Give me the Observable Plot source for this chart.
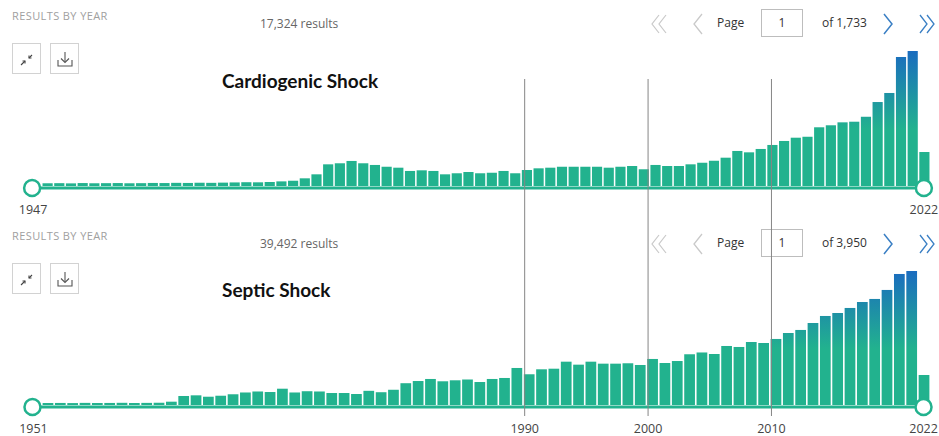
<!DOCTYPE html>
<html>
<head>
<meta charset="utf-8">
<script src="https://cdn.jsdelivr.net/npm/d3@7"></script>
<script src="https://cdn.jsdelivr.net/npm/@observablehq/plot@0.6"></script>
<style>
html, body { margin: 0; padding: 0; background: #fff; }
#root { position: relative; width: 939px; height: 436px; overflow: hidden; font-family: "Open Sans", sans-serif; }
.abs { position: absolute; white-space: nowrap; line-height: 16px; }
.rby { font-size: 11px; letter-spacing: 0.4px; color: #a0a0a0; }
.count { font-size: 12px; color: #666; }
.btn { position: absolute; width: 29px; height: 31px; border: 1px solid #d2d2d2; box-sizing: border-box; }
.btn svg { position: absolute; left: 0; top: 0; }
.title { position: absolute; white-space: nowrap; font-family: Lato, sans-serif; font-weight: bold; font-size: 19px; line-height: 22px; color: #111; }
.pg { font-size: 12px; color: #333; }
.pbox { position: absolute; width: 42px; height: 28px; border: 1px solid #bdbdbd; box-sizing: border-box; text-align: center; line-height: 26px; font-size: 12px; color: #333; }
.chev { position: absolute; }
.plotwrap { position: absolute; left: 0; }
</style>
</head>
<body>
<div id="root"></div>
<script>
// ---------- data ----------
const cardioYears = d3.range(1947, 2023);
const cardioCounts = [
  26, 27, 25, 28, 26, 27, 28, 26, 27,
  29, 28, 30, 29, 31, 30, 32,
  34, 36, 35, 38,
  44, 50,
  73, 111, 206, 216, 238, 216, 200, 183, 174, 143, 149, 143, 111, 121, 133,
  121, 126, 143, 121, 152, 168, 174, 183, 183, 183, 183, 174, 183, 190, 159,
  200, 190, 190, 206, 221, 240, 269, 333, 320, 352, 390, 428, 459, 468, 558,
  577, 605, 611, 658, 798, 884, 1226, 1283, 323
];
const septicYears = d3.range(1951, 2023);
const septicCounts = [
  30, 31, 29, 32, 30, 31, 33, 30, 32, 34,
  50,
  136, 146, 125, 140, 162, 189, 204, 196, 246, 189, 208, 204, 181, 181, 166, 214, 193, 230,
  329, 362, 393, 358, 373, 385, 347, 393, 408, 559,
  464, 539, 548, 654, 609, 654, 624, 624, 630, 604,
  695, 634, 664, 766, 793, 770, 891, 876, 951, 936,
  997, 1087, 1133, 1238, 1344, 1389, 1465, 1555, 1601, 1737, 1978, 2023, 453
];
const decadeYears = [1990, 2000, 2010];

const cardioTitle = "Cardiogenic Shock";
const septicTitle = "Septic Shock";
const cardioResults = "17,324 results";
const septicResults = "39,492 results";
const cardioPages = "of 1,733";
const septicPages = "of 3,950";
const headerLabel = "RESULTS BY YEAR";

const GREEN = "#22b28e";
const BLUE = "#1a6cbf";
const W = 939, ML = 41, MR = 8, PAD = 0.13;

// ---------- bar panel ----------
function barPanel({years, counts, id, height, marginTop, marginBottom, decades}) {
  const data = years.map((year, i) => ({year, count: counts[i]}));
  const first = years[0], last = years[years.length - 1];
  const base = height - marginBottom;
  const defs = () => {
    const d = d3.create("svg:defs");
    const g = d.append("linearGradient").attr("id", id)
      .attr("gradientUnits", "userSpaceOnUse")
      .attr("x1", 0).attr("x2", 0).attr("y1", base).attr("y2", marginTop);
    g.append("stop").attr("offset", 0).attr("stop-color", GREEN);
    g.append("stop").attr("offset", 0.42).attr("stop-color", GREEN);
    g.append("stop").attr("offset", 1).attr("stop-color", BLUE);
    return d.node();
  };
  const lbl = {y: d => 0, text: d => String(d), dy: 23, fill: "#444", fontSize: 12.5};
  const marks = [
    defs,
    Plot.barY(data, {x: "year", y: "count", fill: `url(#${id})`}),
    Plot.ruleY([0], {stroke: GREEN, strokeWidth: 3, dy: 1.5}),
    Plot.dot([first], {x: d => d, y: d => 0, r: 8, fill: "white", stroke: GREEN, strokeWidth: 2.5, dx: -16, dy: 1.5}),
    Plot.dot([last], {x: d => d, y: d => 0, r: 8, fill: "white", stroke: GREEN, strokeWidth: 2.5, dx: -1, dy: 1.5}),
    Plot.text([first], {x: d => d, ...lbl, dx: -15}),
    Plot.text([last], {x: d => d, ...lbl, dx: -1})
  ];
  if (decades) marks.push(Plot.text(decades, {x: d => d, ...lbl, dx: -5}));
  return Plot.plot({
    width: W, height, marginLeft: ML, marginRight: MR, marginTop, marginBottom,
    x: {type: "band", domain: years, padding: PAD, round: false, axis: null},
    y: {domain: [0, d3.max(counts)], axis: null},
    style: {background: "transparent", overflow: "visible", fontFamily: "'Open Sans', sans-serif"},
    marks
  });
}

// ---------- header ----------
const chevL = '<svg width="12" height="24"><polyline points="10,2 2,12 10,22" fill="none" stroke="#c9c9c9" stroke-width="1.3"/></svg>';
const chevLL = '<svg width="18" height="24"><polyline points="9,3 2,12 9,21" fill="none" stroke="#c9c9c9" stroke-width="1.2"/><polyline points="16,3 9,12 16,21" fill="none" stroke="#c9c9c9" stroke-width="1.2"/></svg>';
const chevR = '<svg width="12" height="24"><polyline points="2,2 10,12 2,22" fill="none" stroke="#3a7fc4" stroke-width="1.5"/></svg>';
const chevRR = '<svg width="18" height="24"><polyline points="2,3 9,12 2,21" fill="none" stroke="#3a7fc4" stroke-width="1.3"/><polyline points="9,3 16,12 9,21" fill="none" stroke="#3a7fc4" stroke-width="1.3"/></svg>';
const iconCompress = '<svg width="28" height="30"><g stroke="#444" stroke-width="1.1" fill="none"><line x1="8" y1="21" x2="12" y2="17"/><polyline points="9.5,17 12,17 12,19.5"/><line x1="19" y1="11" x2="16" y2="14"/><polyline points="16,11.5 16,14 18.5,14"/></g></svg>';
const iconDownload = '<svg width="28" height="30"><g stroke="#555" stroke-width="1.1" fill="none"><line x1="14" y1="8" x2="14" y2="18"/><polyline points="10,14.5 14,18.5 18,14.5"/><polyline points="7,16 7,22 21,22 21,16"/></g></svg>';

function header(root, off, results, pages, title, titleTop) {
  const add = (html) => { root.insertAdjacentHTML("beforeend", html); };
  add(`<div class="abs rby" style="left:12px;top:${8 + off}px">${headerLabel}</div>`);
  add(`<div class="abs count" style="left:260px;top:${16 + off}px">${results}</div>`);
  add(`<div class="btn" style="left:12px;top:${43 + off}px">${iconCompress}</div>`);
  add(`<div class="btn" style="left:50px;top:${43 + off}px">${iconDownload}</div>`);
  add(`<div class="chev" style="left:650px;top:${12 + off}px">${chevLL}</div>`);
  add(`<div class="chev" style="left:692px;top:${12 + off}px">${chevL}</div>`);
  add(`<div class="abs pg" style="left:717px;top:${15 + off}px">Page</div>`);
  add(`<div class="pbox" style="left:761px;top:${9 + off}px">1</div>`);
  add(`<div class="abs pg" style="left:822px;top:${15 + off}px">${pages}</div>`);
  add(`<div class="chev" style="left:882px;top:${12 + off}px">${chevR}</div>`);
  add(`<div class="chev" style="left:918px;top:${12 + off}px">${chevRR}</div>`);
  add(`<div class="title" style="left:222px;top:${titleTop}px">${title}</div>`);
}

const rootEl = document.getElementById("root");
header(rootEl, 0, cardioResults, cardioPages, cardioTitle, 70);
header(rootEl, 220, septicResults, septicPages, septicTitle, 279);

const topPlot = barPanel({years: cardioYears, counts: cardioCounts, id: "gradTop", height: 219, marginTop: 51, marginBottom: 33});
const botPlot = barPanel({years: septicYears, counts: septicCounts, id: "gradBot", height: 217, marginTop: 52, marginBottom: 31, decades: decadeYears});

const w1 = document.createElement("div"); w1.className = "plotwrap"; w1.style.top = "0px"; w1.appendChild(topPlot); rootEl.appendChild(w1);
const w2 = document.createElement("div"); w2.className = "plotwrap"; w2.style.top = "219px"; w2.appendChild(botPlot); rootEl.appendChild(w2);

// vertical decade guides spanning both panels, on the lower panel's year scale
const overlayPlot = Plot.plot({
  width: W, height: 436, marginLeft: ML, marginRight: MR, marginTop: 79, marginBottom: 20,
  x: {type: "band", domain: septicYears, padding: PAD, round: false, axis: null},
  style: {background: "transparent", overflow: "visible"},
  marks: [Plot.ruleX(decadeYears, {x: d => d, stroke: "#858585", strokeWidth: 1, dx: -5})]
});
const w3 = document.createElement("div"); w3.className = "plotwrap"; w3.style.top = "0px"; w3.style.pointerEvents = "none"; w3.style.zIndex = 5; w3.appendChild(overlayPlot); rootEl.appendChild(w3);
</script>
</body>
</html>
